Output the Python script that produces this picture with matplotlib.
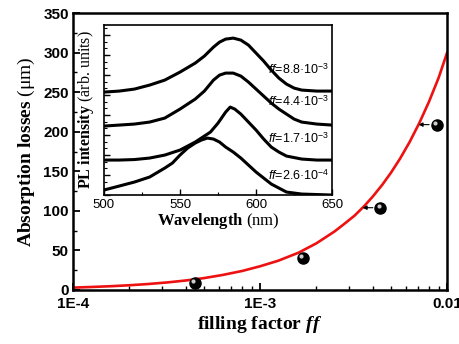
import numpy as np
import matplotlib
matplotlib.use('Agg')
import matplotlib.pyplot as plt
import matplotlib.transforms as mtransforms
from matplotlib.ticker import MultipleLocator, LogLocator, NullFormatter, FixedLocator, FixedFormatter

plt.rcParams['mathtext.fontset'] = 'custom'
plt.rcParams['mathtext.rm'] = 'Liberation Sans'
plt.rcParams['mathtext.bf'] = 'Liberation Serif:bold'
plt.rcParams['mathtext.it'] = 'Liberation Serif:italic:bold'
plt.rcParams['mathtext.sf'] = 'Liberation Sans:italic'

# measured absorption losses
ff_meas = [4.5e-4, 1.7e-3, 4.4e-3, 8.8e-3]
loss_meas = [9, 41, 104, 209]
arrow_pts = [2, 3]  # points with an arrow to the fit

# fit curve
ff_fit = [1e-4, 1.25e-4, 1.6e-4, 2e-4, 2.5e-4, 3.2e-4, 4e-4, 5e-4, 6.3e-4, 8e-4,
          1e-3, 1.25e-3, 1.6e-3, 2e-3, 2.5e-3, 2.8e-3, 3.2e-3, 3.6e-3, 4e-3, 4.5e-3,
          5e-3, 5.6e-3, 6.3e-3, 7.1e-3, 8e-3, 9e-3, 1e-2]
loss_fit = [3, 3.8, 4.8, 6, 7.5, 9.6, 12, 15, 19, 24,
            30, 37, 47, 59, 74, 83, 94, 106, 118, 133,
            148, 166, 187, 211, 238, 268, 300]

# inset PL spectra (offset, arbitrary units)
wl_a = [500, 510, 520, 530, 540, 550, 560, 566, 572, 576, 580, 585, 590, 595, 600,
        605, 610, 615, 620, 625, 630, 640, 650]
pl_a = [103, 104, 106, 110, 115, 123, 132, 139, 148, 153, 156, 157, 155, 150, 142,
        134, 125, 117, 111, 107, 105, 104, 104]
wl_b = [500, 510, 520, 530, 540, 550, 560, 566, 572, 576, 580, 585, 590, 595, 600,
        605, 610, 615, 620, 625, 630, 640, 650]
pl_b = [69, 70, 71, 73, 77, 86, 96, 104, 115, 120, 122, 122, 119, 113, 106,
        99, 92, 86, 81, 76, 73, 71, 70]
wl_c = [500, 510, 520, 530, 540, 550, 560, 565, 570, 575, 580, 583, 586, 590, 595,
        600, 605, 610, 615, 620, 630, 640, 650]
pl_c = [35, 35, 35.5, 37, 40, 45, 53, 58, 63, 72, 83, 88, 86, 81, 73,
        65, 56, 48, 43, 39, 36, 35, 35]
wl_d = [500, 510, 520, 530, 540, 545, 550, 555, 560, 564, 568, 572, 576, 580, 585,
        590, 595, 600, 605, 610, 615, 620, 630, 640, 650]
pl_d = [5, 9, 13, 18, 27, 32, 40, 47, 52, 55, 57, 56, 53, 48, 43,
        37, 30, 23, 17, 11, 7, 3, 1, 0.5, 0]
spec_labels = [r'$\mathsf{ff}$=8.8·10$^{-3}$', r'$\mathsf{ff}$=4.4·10$^{-3}$',
               r'$\mathsf{ff}$=1.7·10$^{-3}$', r'$\mathsf{ff}$=2.6·10$^{-4}$']
label_y = [125, 93, 56, 19]

fig = plt.figure(figsize=(4.6, 3.44), dpi=100)
ax = fig.add_axes([0.159, 0.157, 0.813, 0.805])

ax.plot(ff_fit, loss_fit, color='#ee1111', lw=1.9, zorder=2)
ax.plot(ff_meas, loss_meas, 'o', color='black', ms=8, zorder=3)
hl = mtransforms.offset_copy(ax.transData, fig=fig, x=-1.3, y=1.3, units='points')
ax.plot(ff_meas, loss_meas, 'o', color='#cccccc', ms=3, mec='none', transform=hl, zorder=4)

for i in arrow_pts:
    tip = 10 ** np.interp(loss_meas[i], loss_fit, np.log10(ff_fit))
    ax.annotate('', xy=(tip, loss_meas[i]), xytext=(ff_meas[i], loss_meas[i]),
                arrowprops=dict(arrowstyle='-|>', color='black', lw=0.8,
                                mutation_scale=6, shrinkA=5.5, shrinkB=0))

ax.set_xscale('log')
ax.set_xlim(1e-4, 1e-2)
ax.set_ylim(0, 350)
ax.xaxis.set_major_locator(FixedLocator([1e-4, 1e-3, 1e-2]))
ax.xaxis.set_major_formatter(FixedFormatter(['1E-4', '1E-3', '0.01']))
ax.xaxis.set_minor_locator(LogLocator(base=10, subs=np.arange(2, 10)))
ax.xaxis.set_minor_formatter(NullFormatter())
ax.yaxis.set_major_locator(MultipleLocator(50))
ax.yaxis.set_minor_locator(MultipleLocator(25))
ax.tick_params(which='both', direction='in', top=False, right=False)
ax.tick_params(which='major', length=5, width=1.3)
ax.tick_params(axis='x', which='major', pad=5)
ax.tick_params(axis='y', which='major', pad=3)
ax.tick_params(which='minor', length=3, width=1.0)
for lab in ax.get_xticklabels() + ax.get_yticklabels():
    lab.set_fontfamily('Liberation Sans')
    lab.set_fontweight('bold')
    lab.set_fontsize(11)
for s in ax.spines.values():
    s.set_linewidth(1.8)

ax.set_ylabel(r'$\mathbf{Absorption\ losses}$ (μm)', fontfamily='Liberation Serif',
              fontsize=14, labelpad=5)
ax.set_xlabel(r'$\mathbf{filling\ factor}\ \mathit{ff}$', fontfamily='Liberation Serif',
              fontsize=14, labelpad=2)

# inset
ins = fig.add_axes([0.226, 0.433, 0.496, 0.494])
for wl, pl in [(wl_a, pl_a), (wl_b, pl_b), (wl_c, pl_c), (wl_d, pl_d)]:
    ins.plot(wl, pl, color='black', lw=2.2, solid_joinstyle='round')
for txt, yy in zip(spec_labels, label_y):
    ins.text(648, yy, txt, ha='right', va='center', fontfamily='Liberation Sans', fontsize=9)
ins.set_xlim(500, 650)
ins.set_ylim(0, 170)
ins.xaxis.set_major_locator(MultipleLocator(50))
ins.xaxis.set_minor_locator(MultipleLocator(25))
ins.yaxis.set_major_locator(MultipleLocator(20))
ins.yaxis.set_minor_locator(MultipleLocator(6.667))
ins.set_yticklabels([])
ins.tick_params(which='both', direction='in', top=False, right=False)
ins.tick_params(which='major', length=4, width=1.0, pad=3, labelsize=9.5)
ins.tick_params(which='minor', length=2.5, width=0.8)
for lab in ins.get_xticklabels():
    lab.set_fontfamily('Liberation Sans')
for s in ins.spines.values():
    s.set_linewidth(1.2)
ins.set_xlabel(r'$\mathbf{Wavelength}$ (nm)', fontfamily='Liberation Serif', fontsize=12, labelpad=0)
ins.set_ylabel(r'$\mathbf{PL\ intensity}$ (arb. units)', fontfamily='Liberation Serif',
               fontsize=11.5, labelpad=2)

fig.savefig('out.png', dpi=100)
